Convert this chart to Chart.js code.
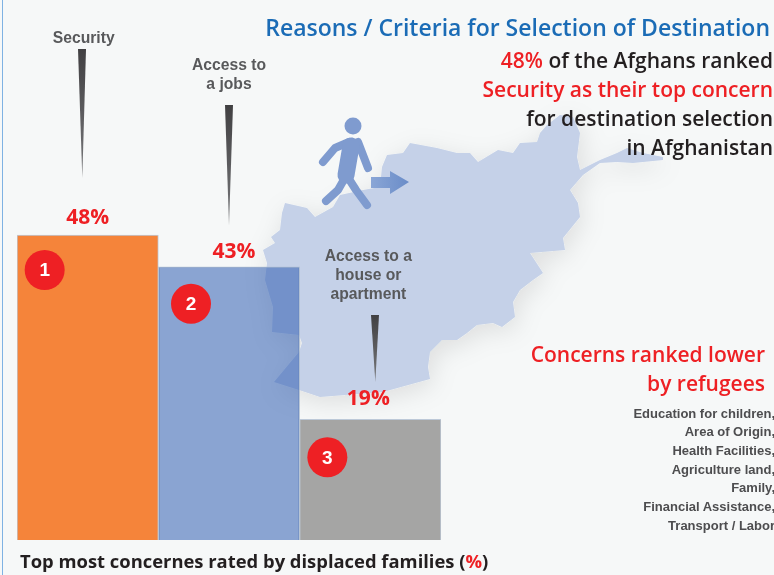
<!DOCTYPE html>
<html><head><meta charset="utf-8">
<script src="https://cdn.jsdelivr.net/npm/chart.js@4"></script>
<style>
html,body{margin:0;padding:0;background:#f6f8f8;}
#wrap{position:relative;width:774px;height:575px;overflow:hidden;background:#f6f8f8;}
#wrap:before{content:"";position:absolute;left:2px;top:0;bottom:0;width:1px;background:#7fb2e3;}
#bg{position:absolute;left:0;top:0;}
canvas{position:absolute;left:0;top:0;}
.t{position:absolute;white-space:nowrap;font-family:"Open Sans",sans-serif;font-weight:600;color:#231f20;line-height:1;}
.r{color:#ee2024;}
.l{font-family:"Liberation Sans",Arial,sans-serif;font-weight:700;font-size:13px;color:#4d4d4f;right:-1px;}
</style></head><body>
<div id="wrap">
<svg id="bg" width="774" height="575" xmlns="http://www.w3.org/2000/svg">
 <defs>
  <filter id="sh" x="-20%" y="-20%" width="140%" height="140%"><feDropShadow dx="3" dy="6" stdDeviation="12" flood-color="#000" flood-opacity=".1"/></filter>
  <linearGradient id="ar" x1="0" x2="1" y1="0" y2="0"><stop offset="0" stop-color="#8aa6d6"/><stop offset="1" stop-color="#6a8cc8"/></linearGradient>
  <linearGradient id="nd" x1="0" x2="0" y1="0" y2="1"><stop offset="0" stop-color="#414042"/><stop offset="1" stop-color="#77787b"/></linearGradient>
 </defs>
 <path filter="url(#sh)" fill="#c5d1e8" d="M285 203 L282 213 L280 230 L271 237 L275 243 L263 250 L267 263 L265 280 L273 307 L272 332 L299 335 L302 343 L299 352 L274 382 L299 390 L320 397 L383 392 L430 379 L428 367 L430 352 L442 340 L457 340 L467 333 L477 325 L493 323 L502 327 L515 317 L513 302 L520 290 L533 280 L543 273 L530 253 L565 250 L563 238 L580 217 L578 203 L570 190 L583 175 L600 163 L617 162 L633 163 L663 160 L663 157 L643 153 L627 148 L617 153 L600 160 L580 170 L577 157 L580 133 L573 117 L560 115 L547 125 L540 133 L537 142 L520 143 L513 153 L498 150 L478 162 L470 153 L457 153 L437 148 L410 143 L403 153 L387 155 L382 167 L380 187 L363 190 L340 195 L333 207 L315 217 L307 208 Z"/>
 <g fill="none" stroke="#7f9bcf" stroke-linecap="round" stroke-linejoin="round">
  <path stroke-width="8" d="M349 142 L335 148 L323 162"/>
  <path stroke-width="8" d="M358 142 L368 168"/>
  <path stroke-width="8" d="M346 176 L338 190 L326 201"/>
  <path stroke-width="8" d="M347 176 L356 190 L367 205"/>
  <path stroke-width="17" d="M351 146 L346 175"/>
 </g>
 <circle cx="353" cy="126" r="8.5" fill="#7f9bcf"/>
 <path fill="url(#ar)" d="M371 177 H390 V171 L409 182 L390 194 V188 H371 Z"/>
 <path fill="url(#nd)" d="M78 49 H86 L82.3 178 Z"/>
 <path fill="url(#nd)" d="M225 105 H233 L229 225 Z"/>
 <path fill="url(#nd)" d="M371 315 H379 L375.3 382 Z"/>
</svg>
<canvas id="c" width="774" height="575"></canvas>
<div class="t" style="right:4px;top:16px;font-size:23px;color:#1b6cb6;">Reasons / Criteria for Selection of Destination</div>
<div class="t" style="right:1px;top:50px;font-size:21px;"><span class="r">48%</span> of the Afghans ranked</div>
<div class="t" style="right:1px;top:79px;font-size:21px;color:#ee2024;">Security as their top concern</div>
<div class="t" style="right:1px;top:108px;font-size:21px;">for destination selection</div>
<div class="t" style="right:1px;top:137px;font-size:21px;">in Afghanistan</div>
<div class="t" style="right:9px;top:344px;font-size:21px;color:#ee2024;">Concerns ranked lower</div>
<div class="t" style="right:9px;top:373px;font-size:21px;color:#ee2024;">by refugees</div>
<div class="t l" style="top:407px;">Education for children,</div>
<div class="t l" style="top:425px;">Area of Origin,</div>
<div class="t l" style="top:444px;">Health Facilities,</div>
<div class="t l" style="top:463px;">Agriculture land,</div>
<div class="t l" style="top:481px;">Family,</div>
<div class="t l" style="top:500px;">Financial Assistance,</div>
<div class="t l" style="top:519px;">Transport / Labor</div>
<div class="t" style="left:20px;top:552px;font-size:18.4px;font-weight:700;">Top most concernes rated by displaced families (<span class="r">%</span>)</div>
</div>
<script>
const categories = ['Security', 'Access to a jobs', 'Access to a house or apartment'];
const values = [48, 43, 19];
const ranks = ['1', '2', '3'];
const barColors = ['#f5843a', 'rgba(42,88,176,0.53)', '#a5a5a4'];
const categoryLines = [['Security'], ['Access to', 'a jobs'], ['Access to a', 'house or', 'apartment']];

const annotate = {
  id: 'annotate',
  afterDatasetsDraw(chart) {
    const ctx = chart.ctx, bars = chart.getDatasetMeta(0).data;
    const valueDx = [0, 5, -2], valueDy = [-17, -15, -20];
    const rankDx = [-43, -38, -43], rankDy = [35, 37, 38];
    const catX = [-4, 0, -2], catY = [39, 66, 257];
    ctx.save();
    ctx.textAlign = 'center'; ctx.textBaseline = 'middle';
    bars.forEach((b, i) => {
      ctx.font = '700 21px "Open Sans", sans-serif';
      ctx.fillStyle = '#ee2024';
      ctx.fillText(values[i] + '%', b.x + valueDx[i], b.y + valueDy[i]);
      const cx = b.x + rankDx[i], cy = b.y + rankDy[i];
      ctx.beginPath(); ctx.arc(cx, cy, 20, 0, Math.PI * 2); ctx.fill();
      ctx.font = '700 19px "Liberation Sans", Arial, sans-serif';
      ctx.fillStyle = '#fff';
      ctx.fillText(ranks[i], cx, cy + 1);
      ctx.font = '700 15.7px "Liberation Sans", Arial, sans-serif';
      ctx.fillStyle = '#58595b';
      categoryLines[i].forEach((s, k) => ctx.fillText(s, b.x + catX[i], catY[i] + k * 19));
    });
    ctx.restore();
  }
};

new Chart(document.getElementById('c'), {
  type: 'bar',
  data: { labels: categories, datasets: [{
    data: values, backgroundColor: barColors,
    borderColor: 'rgba(170,185,205,0.75)', borderWidth: 1,
    barPercentage: 1, categoryPercentage: 1
  }]},
  options: {
    responsive: false, animation: false,
    layout: { padding: { left: 17, right: 333, top: 31.67, bottom: 35 } },
    plugins: { legend: { display: false }, title: { display: false }, tooltip: { enabled: false } },
    scales: {
      x: { display: false },
      y: { display: false, min: 0, max: 80 }
    }
  },
  plugins: [annotate]
});
</script>
</body></html>
